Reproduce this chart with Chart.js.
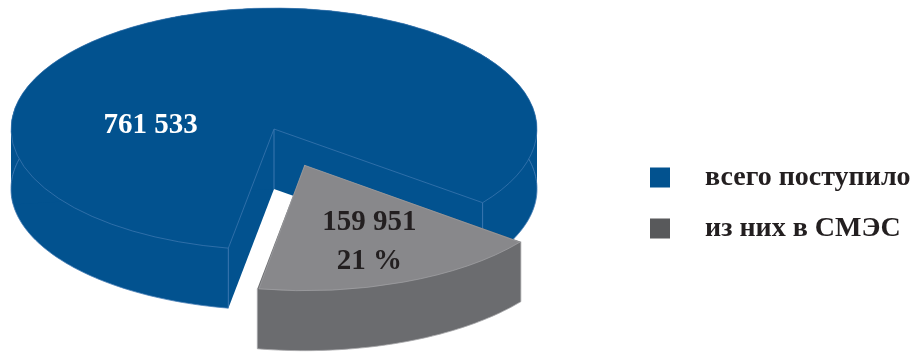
<!DOCTYPE html>
<html lang="ru">
<head>
<meta charset="utf-8">
<script src="https://cdn.jsdelivr.net/npm/chart.js@4.4.1/dist/chart.umd.min.js"></script>
<style>
  html, body { margin: 0; background: #fff; }
  #wrap { width: 917px; height: 358px; }
</style>
</head>
<body>
<div id="wrap"><canvas id="chart" width="917" height="358"></canvas></div>
<script>
const categories = ["всего поступило", "из них в СМЭС"];
const received = [761533, 159951];

const topColors = ["#02528f", "#88888b"];
const sideColors = ["#02528f", "#6b6c6f"];
const seamColors = ["#4a80b8", "#a7a7aa"];
const legendColors = ["#02528f", "#58595b"];

const serif = '"Liberation Serif", "Times New Roman", serif';

function fmt(n) {
  return String(n).replace(/\B(?=(\d{3})+(?!\d))/g, " ");
}

// flat pie -> tilted ellipse
function view(chart, opts) {
  const arcs = chart.getDatasetMeta(0).data;
  const a = arcs[0];
  return { arcs: arcs, x: a.x, y: a.y, sx: opts.rx / a.outerRadius, sy: opts.ry / a.outerRadius };
}
function applyView(ctx, v, opts) {
  ctx.translate(opts.cx, opts.cy);
  ctx.scale(v.sx, v.sy);
  ctx.translate(-v.x, -v.y);
}
function toScreen(v, opts, px, py) {
  return [opts.cx + v.sx * (px - v.x), opts.cy + v.sy * (py - v.y)];
}
// same shift chart.js applies to an offset slice
function shift(arc) {
  const t = (arc.options.offset || 0) / 4;
  const mid = (arc.startAngle + arc.endAngle) / 2;
  const fix = 1 - Math.sin(Math.min(Math.PI, arc.circumference));
  return { t: t, mid: mid, dx: Math.cos(mid) * t, dy: Math.sin(mid) * t, r: arc.outerRadius + t * fix };
}

function rimPoints(v, opts, ox, oy, r, a0, a1) {
  const n = Math.max(2, Math.ceil((a1 - a0) / 0.02));
  const pts = [];
  for (let k = 0; k <= n; k++) {
    const a = a0 + ((a1 - a0) * k) / n;
    pts.push(toScreen(v, opts, ox + Math.cos(a) * r, oy + Math.sin(a) * r));
  }
  return pts;
}

function hull(pts) {
  pts = pts.slice().sort((p, q) => p[0] - q[0] || p[1] - q[1]);
  const cross = (o, a, b) => (a[0] - o[0]) * (b[1] - o[1]) - (a[1] - o[1]) * (b[0] - o[0]);
  const lower = [], upper = [];
  for (const p of pts) {
    while (lower.length >= 2 && cross(lower[lower.length - 2], lower[lower.length - 1], p) <= 0) lower.pop();
    lower.push(p);
  }
  for (let i = pts.length - 1; i >= 0; i--) {
    const p = pts[i];
    while (upper.length >= 2 && cross(upper[upper.length - 2], upper[upper.length - 1], p) <= 0) upper.pop();
    upper.push(p);
  }
  upper.pop();
  lower.pop();
  return lower.concat(upper);
}

const pie3d = {
  id: "pie3d",
  beforeDatasetsDraw(chart, args, opts) {
    const ctx = chart.ctx;
    const v = view(chart, opts);
    const depth = opts.depth;
    v.arcs.forEach((arc, i) => {
      const s = shift(arc);
      const ox = arc.x + s.dx, oy = arc.y + s.dy;
      const apex = toScreen(v, opts, ox, oy);
      // solid body, split into convex pieces that overlap a little
      const pieces = Math.ceil(arc.circumference / (Math.PI / 2));
      const step = arc.circumference / pieces;
      ctx.save();
      ctx.fillStyle = opts.sideColors[i];
      for (let k = 0; k < pieces; k++) {
        const a0 = Math.max(arc.startAngle, arc.startAngle + k * step - 0.03);
        const a1 = Math.min(arc.endAngle, arc.startAngle + (k + 1) * step + 0.03);
        const top = [apex].concat(rimPoints(v, opts, ox, oy, s.r, a0, a1));
        const body = hull(top.concat(top.map((p) => [p[0], p[1] + depth])));
        ctx.beginPath();
        body.forEach((p, j) => (j ? ctx.lineTo(p[0], p[1]) : ctx.moveTo(p[0], p[1])));
        ctx.closePath();
        ctx.fill();
      }
      // light edges: bottom rim and vertical corners
      ctx.strokeStyle = opts.seamColors[i];
      ctx.lineWidth = 0.8;
      const rim = rimPoints(v, opts, ox, oy, s.r, arc.startAngle, arc.endAngle);
      ctx.beginPath();
      rim.forEach((p, j) => (j ? ctx.lineTo(p[0], p[1] + depth) : ctx.moveTo(p[0], p[1] + depth)));
      ctx.stroke();
      [apex, rim[0], rim[rim.length - 1]].forEach((p) => {
        ctx.beginPath();
        ctx.moveTo(p[0], p[1]);
        ctx.lineTo(p[0], p[1] + depth);
        ctx.stroke();
      });
      ctx.restore();
    });
    ctx.save();
    applyView(ctx, v, opts);
  },
  afterDatasetsDraw(chart) {
    chart.ctx.restore();
  },
  afterDraw(chart, args, opts) {
    const ctx = chart.ctx;
    const v = view(chart, opts);
    const share = Math.round((received[1] / received[0]) * 100);
    const texts = [[fmt(received[0])], [fmt(received[1]), share + " %"]];
    ctx.save();
    ctx.font = "bold 29px " + serif;
    ctx.textAlign = "center";
    ctx.textBaseline = "middle";
    v.arcs.forEach((arc, i) => {
      const s = shift(arc);
      const spot = opts.labelSpots[i];
      const ang = spot.angle == null ? s.mid : (spot.angle * Math.PI) / 180;
      const p = toScreen(v, opts,
        arc.x + s.dx + Math.cos(ang) * arc.outerRadius * spot.r,
        arc.y + s.dy + Math.sin(ang) * arc.outerRadius * spot.r);
      const lines = texts[i];
      ctx.fillStyle = opts.labelColors[i];
      lines.forEach((t, k) => {
        ctx.fillText(t, p[0], p[1] + (k - (lines.length - 1) / 2) * 39);
      });
    });
    ctx.restore();
  }
};

// legend to the right of the pie
const sideLegend = {
  id: "sideLegend",
  afterDraw(chart, args, opts) {
    const ctx = chart.ctx;
    ctx.save();
    ctx.font = "bold 28px " + serif;
    ctx.textBaseline = "middle";
    chart.data.labels.forEach((label, i) => {
      const y = opts.top + i * opts.step;
      ctx.fillStyle = opts.colors[i];
      ctx.fillRect(opts.left, y - 10, 20, 20);
      ctx.fillStyle = "#231f20";
      ctx.fillText(label, opts.left + 55, y);
    });
    ctx.restore();
  }
};

var ctxP = document.getElementById("chart").getContext("2d");
var pieChart = new Chart(ctxP, {
  type: "pie",
  data: {
    labels: categories,
    datasets: [
      {
        data: received,
        backgroundColor: topColors,
        borderColor: seamColors,
        borderWidth: 0.35,
        offset: [0, 140],
        clip: false,
      },
    ],
  },
  options: {
    responsive: false,
    animation: false,
    events: [],
    rotation: -170,
    layout: { padding: 0 },
    plugins: {
      legend: { display: false },
      tooltip: { enabled: false },
      pie3d: {
        cx: 274,
        cy: 129,
        rx: 263,
        ry: 121,
        depth: 60,
        sideColors: sideColors,
        seamColors: seamColors,
        labelColors: ["#ffffff", "#231f20"],
        labelSpots: [{ angle: 184, r: 0.47 }, { angle: null, r: 0.68 }],
      },
      sideLegend: {
        left: 650,
        top: 177.5,
        step: 51,
        colors: legendColors,
      },
    },
  },
  plugins: [pie3d, sideLegend],
});
</script>
</body>
</html>
